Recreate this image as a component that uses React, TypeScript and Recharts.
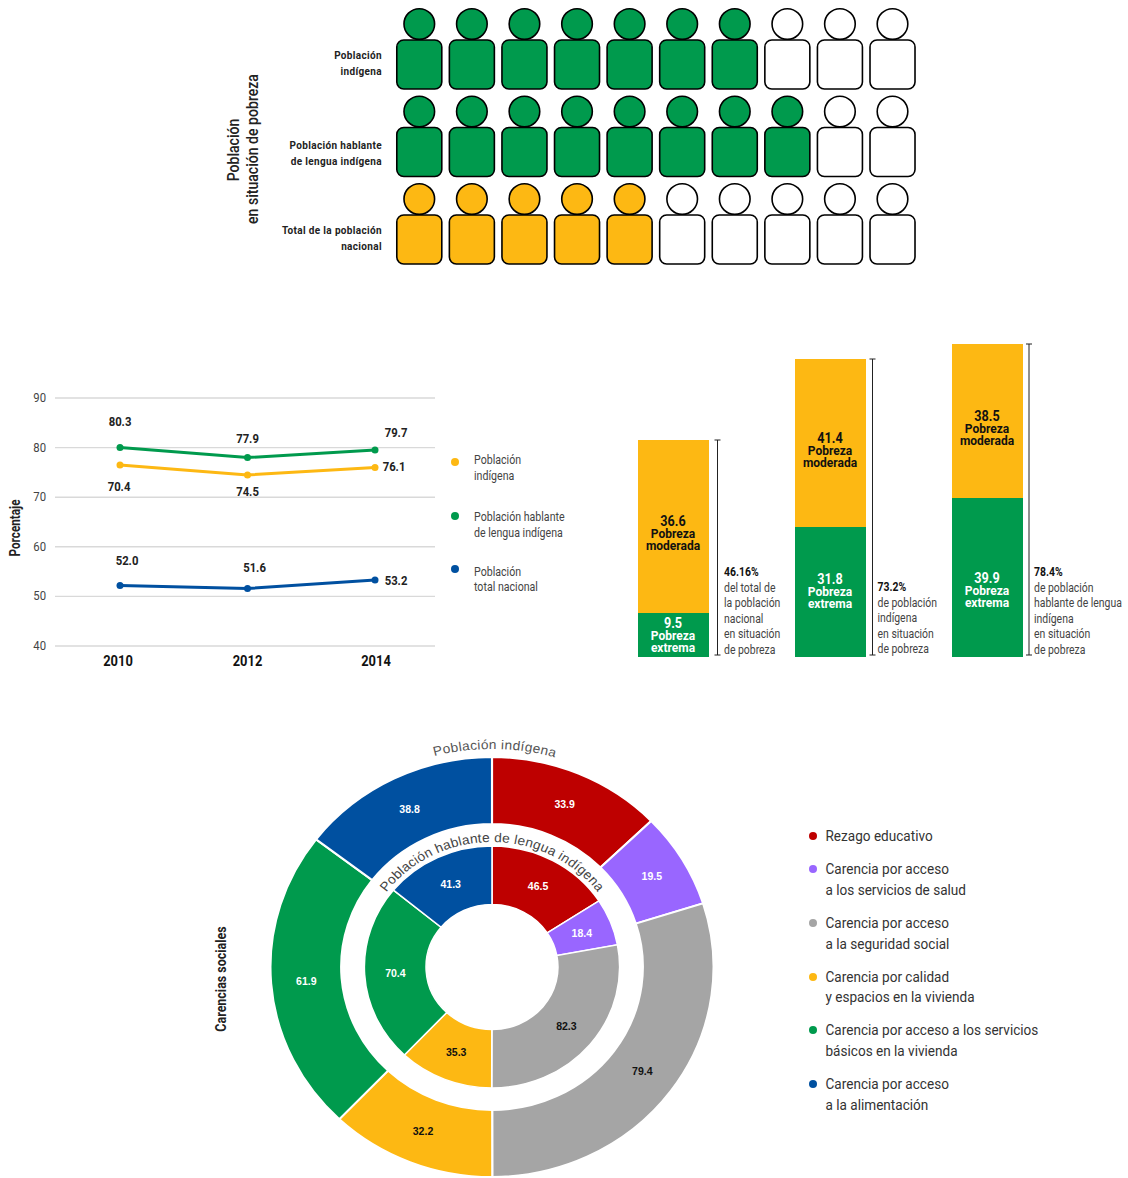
import React from 'react'
import {
    BarChart,
    Bar,
    LabelList,
    LineChart,
    Line,
    CartesianGrid,
    XAxis,
    YAxis,
    PieChart,
    Pie,
    Cell,
    ScatterChart,
    Scatter
} from 'recharts'

const FONT = 'Roboto, sans-serif'
const GREEN = '#009A4D'
const ORANGE = '#FDB813'
const BLUE = '#0050A0'
const RED = '#BE0000'
const PURPLE = '#9966FF'
const GREY = '#A5A5A5'

// pictogram
const ROW_LABELS = [
    ['Población', 'indígena'],
    ['Población hablante', 'de lengua indígena'],
    ['Total de la población', 'nacional']
]
const ROW_COLORS = [GREEN, GREEN, ORANGE]
const ROW_FILLED = [7, 8, 5]
const ICONS_PER_ROW = 10

// line chart
const YEARS = ['2010', '2012', '2014']
const LINE_TICKS = [40, 50, 60, 70, 80, 90]
const HABLANTE = [80.0, 78.0, 79.5]
const HABLANTE_LABELS = ['80.3', '77.9', '79.7']
const INDIGENA = [76.5, 74.5, 76.0]
const INDIGENA_LABELS = ['70.4', '74.5', '76.1']
const NACIONAL = [52.2, 51.6, 53.3]
const NACIONAL_LABELS = ['52.0', '51.6', '53.2']

// stacked bars, heights as drawn, the printed numbers are kept apart
const BAR_GROUPS = ['nacional', 'indigena', 'hablante']
const EXTREMA = [11, 32.5, 39.75]
const MODERADA = [43.25, 42, 38.5]
const EXTREMA_LABELS = ['9.5', '31.8', '39.9']
const MODERADA_LABELS = ['36.6', '41.4', '38.5']
const BAR_NOTES = [
    ['46.16%', 'del total de', 'la población', 'nacional', 'en situación', 'de pobreza'],
    ['73.2%', 'de población', 'indígena', 'en situación', 'de pobreza'],
    ['78.4%', 'de población', 'hablante de lengua', 'indígena', 'en situación', 'de pobreza']
]

// donut
const CARENCIAS = ['Rezago educativo', 'Salud', 'Seguridad social', 'Vivienda', 'Servicios', 'Alimentación']
const CARENCIA_COLORS = [RED, PURPLE, GREY, ORANGE, GREEN, BLUE]
const CARENCIA_TEXT = ['#fff', '#fff', '#111', '#111', '#fff', '#fff']
const OUTER_VALUES = [33.9, 19.5, 79.4, 32.2, 61.9, 38.8]
const INNER_VALUES = [46.5, 18.4, 82.3, 35.3, 70.4, 41.3]
const CARENCIA_LEGEND = [
    ['Rezago educativo'],
    ['Carencia por acceso', 'a los servicios de salud'],
    ['Carencia por acceso', 'a la seguridad social'],
    ['Carencia por calidad', 'y espacios en la vivienda'],
    ['Carencia por acceso a los servicios', 'básicos en la vivienda'],
    ['Carencia por acceso', 'a la alimentación']
]

const iconData = ROW_FILLED.flatMap((filled, row) =>
    Array.from({ length: ICONS_PER_ROW }, (_, col) => ({
        col,
        row,
        fill: col < filled ? ROW_COLORS[row] : '#fff'
    }))
)
const lineData = YEARS.map((year, i) => ({
    year,
    hablante: HABLANTE[i],
    indigena: INDIGENA[i],
    nacional: NACIONAL[i]
}))
const barData = BAR_GROUPS.map((group, i) => ({
    group,
    extrema: EXTREMA[i],
    moderada: MODERADA[i]
}))
const outerData = CARENCIAS.map((name, i) => ({ name, value: OUTER_VALUES[i] }))
const innerData = CARENCIAS.map((name, i) => ({ name, value: INNER_VALUES[i] }))

// the source font is narrower than anything installed, so squeeze the text sideways
function T({ x, y, sx = 0.87, rotate = 0, children, ...rest }: any) {
    return (
        <text
            transform={`translate(${x} ${y}) rotate(${rotate}) scale(${sx} 1)`}
            fontFamily={FONT}
            {...rest}
        >
            {children}
        </text>
    )
}

function PersonIcon(props: any) {
    const { cx, cy, payload } = props
    return (
        <g fill={payload.fill} stroke="#000" strokeWidth={1.6}>
            <circle cx={cx} cy={cy - 40.5} r={15.3} />
            <rect x={cx - 22.5} y={cy - 24.5} width={45} height={49} rx={7} />
        </g>
    )
}

const ROW_SHIFT = [0, 3, 0]

function RowTick(props: any) {
    const { x, y, payload } = props
    const lines = ROW_LABELS[payload.value]
    if (!lines) return null
    const shift = ROW_SHIFT[payload.value]
    return (
        <g fontSize={11.5} fontWeight={700} fill="#222" letterSpacing={0.4}>
            <T x={x - 3} y={y - 6 + shift} textAnchor="end">{lines[0]}</T>
            <T x={x - 3} y={y + 10 + shift} textAnchor="end">{lines[1]}</T>
        </g>
    )
}

const YEAR_SHIFT = [-2, 0, 1]

function YearTick(props: any) {
    const { x, y, payload, index } = props
    return (
        <T x={x + YEAR_SHIFT[index]} y={y + 12} textAnchor="middle" fontSize={14} fontWeight={700} fill="#111" sx={0.92}>
            {payload.value}
        </T>
    )
}

function PercentTick(props: any) {
    const { x, y, payload } = props
    return (
        <T x={x - 1} y={y + 4} textAnchor="end" fontSize={13} fill="#444">
            {payload.value}
        </T>
    )
}

const HABLANTE_OFFSETS = [[0, -26], [0, -19], [21, -17]]
const INDIGENA_OFFSETS = [[-1, 22], [0, 17], [19, 0]]
const NACIONAL_OFFSETS = [[7, -24], [7, -20], [21, 1]]

function pointLabel(texts: string[], offsets: number[][]) {
    return (props: any) => {
        const { x, y, index } = props
        return (
            <T
                x={x + offsets[index][0]}
                y={y + offsets[index][1] + 4}
                textAnchor="middle"
                fontSize={13}
                fontWeight={700}
                fill="#222"
            >
                {texts[index]}
            </T>
        )
    }
}

const EXTREMA_SHIFT = [0, -1, 13]
const BARS_TOP = 337
const NOTE_START = [572, 587, 572]
const WHISKER_GAP = [8.5, 6.5, 6]
const NOTE_GAP = [15, 11.5, 11]

function ExtremaLabel(props: any) {
    const { x, y, width, height, index } = props
    const mid = x + width / 2 - 0.5
    const c = y + height / 2 + EXTREMA_SHIFT[index]
    return (
        <g fontWeight={700} fill="#fff">
            <T x={mid} y={c - 7.5} fontSize={14.5} textAnchor="middle">{EXTREMA_LABELS[index]}</T>
            <T x={mid} y={c + 4.5} fontSize={13.5} sx={0.89} textAnchor="middle">Pobreza</T>
            <T x={mid} y={c + 16.5} fontSize={13.5} sx={0.89} textAnchor="middle">extrema</T>
        </g>
    )
}

function ModeradaLabel(props: any) {
    const { x, y, width, height, index } = props
    const mid = x + width / 2 - 0.5
    const c = y + height / 2 + 7
    const wx = x + width + WHISKER_GAP[index]
    const bottom = y + height + EXTREMA[index] * 4 - 2
    const note = BAR_NOTES[index]
    return (
        <g>
            <g fontWeight={700} fill="#111">
                <T x={mid} y={c - 7.5} fontSize={14.5} textAnchor="middle">{MODERADA_LABELS[index]}</T>
                <T x={mid} y={c + 4.5} fontSize={13.5} sx={0.89} textAnchor="middle">Pobreza</T>
                <T x={mid} y={c + 16.5} fontSize={13.5} sx={0.89} textAnchor="middle">moderada</T>
            </g>
            <g stroke="#222" strokeWidth={1}>
                <line x1={wx} x2={wx} y1={y} y2={bottom} />
                <line x1={wx - 3} x2={wx + 3} y1={y} y2={y} />
                <line x1={wx - 3} x2={wx + 3} y1={bottom} y2={bottom} />
            </g>
            <g fontSize={12}>
                {note.map((t, i) => (
                    <T
                        key={i}
                        x={x + width + NOTE_GAP[index]}
                        y={NOTE_START[index] - BARS_TOP + 4 + i * 15.6}
                        sx={0.87}
                        fontWeight={i === 0 ? 700 : 400}
                        fill={i === 0 ? '#111' : '#444'}
                    >
                        {t}
                    </T>
                ))}
            </g>
        </g>
    )
}

function sliceLabel(props: any) {
    const { cx, cy, midAngle, innerRadius, outerRadius, index, value } = props
    const r = (innerRadius + outerRadius) / 2
    const a = (midAngle * Math.PI) / 180
    return (
        <text
            x={cx + r * Math.cos(a)}
            y={cy - r * Math.sin(a) + 4}
            textAnchor="middle"
            fontFamily="'Liberation Sans', sans-serif"
            fontSize={10}
            fontWeight={700}
            fill={CARENCIA_TEXT[index]}
        >
            {value.toFixed(1)}
        </text>
    )
}

function arcPath(r: number) {
    return `M ${230 - r} 230 A ${r} ${r} 0 0 1 ${230 + r} 230`
}

const LINE_LEGEND = [
    { color: ORANGE, y: 462, lines: ['Población', 'indígena'], at: [460, 476] },
    { color: GREEN, y: 516, lines: ['Población hablante', 'de lengua indígena'], at: [517, 533] },
    { color: BLUE, y: 569, lines: ['Población', 'total nacional'], at: [572, 587] }
]
const DONUT_LEGEND_Y = [[836], [869, 890], [923, 944], [977, 997], [1030, 1051], [1084, 1105]]

export default function App() {
    return (
        <div style={{ position: 'absolute', left: 0, top: 0, width: 1128, height: 1178, background: '#fff', overflow: 'hidden' }}>
            {/* pictogram */}
            <div style={{ position: 'absolute', left: 200, top: 0 }}>
                <ScatterChart width={730} height={280} margin={{ top: 64.5, right: 11.2, bottom: 40.5, left: 0 }}>
                    <XAxis type="number" dataKey="col" domain={[-0.5, 9.5]} hide />
                    <YAxis
                        type="number"
                        dataKey="row"
                        domain={[0, 2]}
                        ticks={[0, 1, 2]}
                        reversed
                        width={193}
                        axisLine={false}
                        tickLine={false}
                        tick={<RowTick />}
                    />
                    <Scatter data={iconData} shape={<PersonIcon />} isAnimationActive={false} />
                </ScatterChart>
            </div>

            {/* line chart */}
            <div style={{ position: 'absolute', left: 0, top: 380 }}>
                <LineChart width={440} height={300} data={lineData} margin={{ top: 18, right: 5, bottom: 4, left: 0 }}>
                    <CartesianGrid vertical={false} stroke="#d9d9d9" strokeWidth={1.4} />
                    <XAxis
                        dataKey="year"
                        scale="point"
                        height={30}
                        padding={{ left: 65, right: 60 }}
                        axisLine={false}
                        tickLine={false}
                        tick={<YearTick />}
                    />
                    <YAxis
                        domain={[40, 90]}
                        ticks={LINE_TICKS}
                        width={55}
                        axisLine={false}
                        tickLine={false}
                        tick={<PercentTick />}
                    />
                    <Line dataKey="hablante" stroke={GREEN} strokeWidth={3} dot={{ r: 3.5, fill: GREEN, strokeWidth: 0 }} isAnimationActive={false}>
                        <LabelList dataKey="hablante" content={pointLabel(HABLANTE_LABELS, HABLANTE_OFFSETS)} />
                    </Line>
                    <Line dataKey="indigena" stroke={ORANGE} strokeWidth={3} dot={{ r: 3.5, fill: ORANGE, strokeWidth: 0 }} isAnimationActive={false}>
                        <LabelList dataKey="indigena" content={pointLabel(INDIGENA_LABELS, INDIGENA_OFFSETS)} />
                    </Line>
                    <Line dataKey="nacional" stroke={BLUE} strokeWidth={3} dot={{ r: 3.5, fill: BLUE, strokeWidth: 0 }} isAnimationActive={false}>
                        <LabelList dataKey="nacional" content={pointLabel(NACIONAL_LABELS, NACIONAL_OFFSETS)} />
                    </Line>
                </LineChart>
            </div>

            {/* stacked bars */}
            <div style={{ position: 'absolute', left: 595, top: BARS_TOP }}>
                <BarChart width={533} height={320} data={barData} barSize={71} margin={{ top: 0, right: 62, bottom: 0, left: 0 }}>
                    <XAxis dataKey="group" hide />
                    <YAxis domain={[0, 80]} hide />
                    <Bar dataKey="extrema" stackId="a" fill={GREEN} isAnimationActive={false}>
                        <LabelList dataKey="extrema" content={<ExtremaLabel />} />
                    </Bar>
                    <Bar dataKey="moderada" stackId="a" fill={ORANGE} isAnimationActive={false}>
                        <LabelList dataKey="moderada" content={<ModeradaLabel />} />
                    </Bar>
                </BarChart>
            </div>

            {/* donut, the source image is slightly wider than tall */}
            <div style={{ position: 'absolute', left: 262, top: 737, transform: 'scaleX(1.055)' }}>
                <PieChart width={460} height={460} margin={{ top: 0, right: 0, bottom: 0, left: 0 }}>
                    <Pie
                        data={outerData}
                        dataKey="value"
                        cx={230}
                        cy={230}
                        innerRadius={143}
                        outerRadius={210}
                        startAngle={90}
                        endAngle={-270}
                        stroke="#fff"
                        strokeWidth={2}
                        label={sliceLabel}
                        labelLine={false}
                        isAnimationActive={false}
                    >
                        {outerData.map((d, i) => (
                            <Cell key={d.name} fill={CARENCIA_COLORS[i]} />
                        ))}
                    </Pie>
                    <Pie
                        data={innerData}
                        dataKey="value"
                        cx={230}
                        cy={230}
                        innerRadius={62.5}
                        outerRadius={121}
                        startAngle={90}
                        endAngle={-270}
                        stroke="#fff"
                        strokeWidth={1.5}
                        label={sliceLabel}
                        labelLine={false}
                        isAnimationActive={false}
                    >
                        {innerData.map((d, i) => (
                            <Cell key={d.name} fill={CARENCIA_COLORS[i]} />
                        ))}
                    </Pie>
                    <path id="arcOuter" d={arcPath(218)} fill="none" />
                    <path id="arcInner" d={arcPath(125)} fill="none" />
                    <text fontFamily="'Liberation Sans', sans-serif" fontSize={13} letterSpacing={0.3} fill="#555" textAnchor="middle">
                        <textPath href="#arcOuter" startOffset="50.4%">Población indígena</textPath>
                    </text>
                    <text fontFamily="'Liberation Sans', sans-serif" fontSize={13} letterSpacing={0.2} fill="#444" textAnchor="middle">
                        <textPath href="#arcInner" startOffset="50%">Población hablante de lengua indígena</textPath>
                    </text>
                </PieChart>
            </div>

            {/* titles and legends */}
            <svg width={1128} height={1178} style={{ position: 'absolute', left: 0, top: 0, pointerEvents: 'none' }}>
                <g fontSize={16} fontWeight={500} fill="#222">
                    <T x={239} y={150} rotate={-90} sx={0.88} textAnchor="middle">Población</T>
                    <T x={258} y={149} rotate={-90} sx={0.88} textAnchor="middle">en situación de pobreza</T>
                </g>
                <T x={20} y={528} rotate={-90} sx={0.84} textAnchor="middle" fontSize={14} fontWeight={700} fill="#222">
                    Porcentaje
                </T>
                <T x={226} y={979} rotate={-90} sx={0.86} textAnchor="middle" fontSize={14.5} fontWeight={700} fill="#222">
                    Carencias sociales
                </T>
                {LINE_LEGEND.map((item) => (
                    <g key={item.y}>
                        <circle cx={455} cy={item.y} r={4} fill={item.color} />
                        {item.lines.map((t, i) => (
                            <T key={t} x={474} y={item.at[i] + 4} sx={0.85} fontSize={12.5} fill="#444">{t}</T>
                        ))}
                    </g>
                ))}
                {CARENCIA_LEGEND.map((lines, k) => (
                    <g key={k}>
                        <circle cx={813} cy={DONUT_LEGEND_Y[k][0]} r={4} fill={CARENCIA_COLORS[k]} />
                        {lines.map((t, i) => (
                            <T key={t} x={825.5} y={DONUT_LEGEND_Y[k][i] + 5} sx={0.876} fontSize={15.5} fill="#333">{t}</T>
                        ))}
                    </g>
                ))}
            </svg>
        </div>
    )
}
